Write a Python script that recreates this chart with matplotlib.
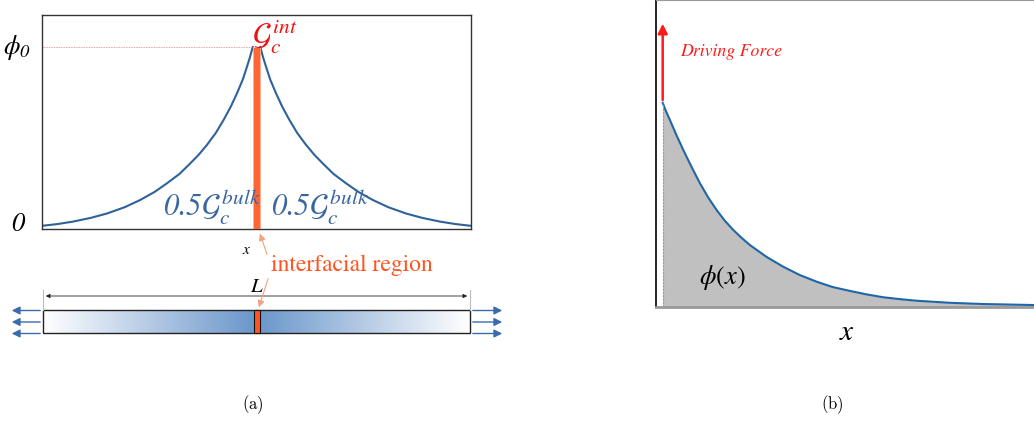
import numpy as np
import matplotlib
matplotlib.use("Agg")
import matplotlib.pyplot as plt
from matplotlib.colors import LinearSegmentedColormap
from matplotlib.patches import Rectangle

plt.rcParams['mathtext.fontset'] = 'stix'
plt.rcParams['mathtext.rm'] = 'STIXGeneral:italic'
plt.rcParams['mathtext.it'] = 'STIXGeneral:italic'
plt.rcParams['font.family'] = ['STIXGeneral', 'DejaVu Serif']

# panel (a): profile on each side of the interface (distance in L units, phi/phi0)
dist_a = [0, 0.007, 0.0135, 0.0233, 0.0368, 0.0513, 0.068, 0.0862, 0.1068, 0.1259, 0.1457,
          0.1702, 0.2, 0.2284, 0.2622, 0.2984, 0.34, 0.3776, 0.4177, 0.4545, 0.4912]
phi_a = [1, 0.94, 0.891, 0.82, 0.744, 0.67, 0.597, 0.525, 0.459, 0.405, 0.357,
         0.30, 0.247, 0.200, 0.155, 0.115, 0.080, 0.056, 0.036, 0.022, 0.012]
x_int = 0.5          # interface position (L = 1)
w_int = 0.0175       # interface width

# panel (b): decaying phi(x)
x_b = [0, 0.03, 0.073, 0.13, 0.206, 0.29, 0.373, 0.455, 0.54, 0.62, 0.706, 0.79, 0.873,
       1.04, 1.206, 1.37, 1.54, 1.70, 1.873, 2.04, 2.206, 2.37, 2.54, 2.873, 3.206, 3.72]
phi_b = [1, 0.962, 0.915, 0.85, 0.769, 0.685, 0.606, 0.537, 0.475, 0.424, 0.378, 0.339, 0.304,
         0.246, 0.198, 0.158, 0.125, 0.099, 0.080, 0.063, 0.049, 0.040, 0.032, 0.022, 0.016, 0.011]

W, H = 1034, 422
fig = plt.figure(figsize=(W / 100, H / 100), dpi=100)

def frac(l, t, r, b):
    return [l / W, 1 - b / H, (r - l) / W, (b - t) / H]

blue = '#2f6298'
orange = '#ff6633'

#%% panel (a)
ax = fig.add_axes(frac(42, 15, 471, 229))
left_x = [x_int - w_int / 2 - d for d in dist_a]
right_x = [x_int + w_int / 2 + d for d in dist_a]
ax.plot(left_x, phi_a, color=blue, lw=1.5, solid_joinstyle='round')
ax.plot(right_x, phi_a, color=blue, lw=1.5, solid_joinstyle='round')
ax.bar(x_int, 1.0055, width=w_int, bottom=-0.0055, color=orange, edgecolor='#ffb090', lw=0.5, zorder=3)
ax.plot([0, x_int - w_int / 2], [1, 1], color='#e08080', lw=0.6, ls=(0, (1, 1)))
ax.set_xlim(0, 1)
ax.set_ylim(-0.0055, 1.177)
ax.set_xticks([])
ax.set_yticks([])
for s in ax.spines.values():
    s.set_color('#333333')
    s.set_linewidth(1)

#%% panel (b)
bx = fig.add_axes([655.5 / W, 1 - 307.3 / H, 1 - 655.5 / W, 306.8 / H])
bx.fill_between(x_b, 0, phi_b, color='#c0c0c0', lw=0)
bx.plot(x_b, phi_b, color='#1f66a8', lw=1.5, solid_joinstyle='round')
bx.plot([0, 0], [0, 1], color='#999999', lw=0.8, ls=(0, (2, 1)))
bx.annotate('', xy=(0, 1.40), xytext=(0, 1.0),
            arrowprops=dict(arrowstyle='-|>', color='#ff1a1a', lw=1.8, mutation_scale=14))
bx.set_xlim(-0.072, 3.713)
bx.set_ylim(0, 1.5)
bx.set_xticks([])
bx.set_yticks([])
bx.spines['right'].set_visible(False)
bx.spines['left'].set_color('black')
bx.spines['left'].set_linewidth(1.2)
bx.spines['top'].set_color('#999999')
bx.spines['bottom'].set_color('#999999')
bx.spines['bottom'].set_linewidth(2)

#%% overlay (pixel coordinates) for schematic and labels
ov = fig.add_axes([0, 0, 1, 1])
ov.patch.set_visible(False)
ov.axis('off')

cmap = LinearSegmentedColormap.from_list('bar', ['white', '#6a96cb'])
grad = 1 - np.abs(np.linspace(-1, 1, 500))
ov.imshow(grad[np.newaxis, :], cmap=cmap, aspect='auto', extent=(43, 470, 333, 310), zorder=1)
ov.add_patch(Rectangle((43, 310), 427, 23, fill=False, edgecolor='#222222', lw=1, zorder=2))
ov.add_patch(Rectangle((254, 310), 5.5, 23, facecolor='#ff5522', edgecolor='#111111', lw=0.8, zorder=3))

# dimension line
ov.plot([43, 43], [290, 310], color='#bbbbbb', lw=0.8)
ov.plot([470, 470], [290, 310], color='#bbbbbb', lw=0.8)
ov.annotate('', xy=(43, 296), xytext=(470, 296),
            arrowprops=dict(arrowstyle='<|-|>', color='#222222', lw=0.6, mutation_scale=6))
ov.text(257, 287, r'$L$', fontsize=15, ha='center', va='center', math_fontfamily='stix')

# loading arrows
for yy in [310.5, 322, 333.5]:
    ov.annotate('', xy=(9, yy), xytext=(43, yy),
                arrowprops=dict(arrowstyle='-|>', color='#3a6cad', lw=1.0, mutation_scale=12))
    ov.annotate('', xy=(505, yy), xytext=(470, yy),
                arrowprops=dict(arrowstyle='-|>', color='#3a6cad', lw=1.0, mutation_scale=12))

# interfacial region label and arrows
ov.text(271, 265, 'interfacial region', fontsize=17, color='#ff5522', ha='left', va='center')
ov.annotate('', xy=(259, 231), xytext=(268, 257),
            arrowprops=dict(arrowstyle='-|>', color='#f5a080', lw=0.8, mutation_scale=10))
ov.annotate('', xy=(258, 310), xytext=(269, 276),
            arrowprops=dict(arrowstyle='-|>', color='#f5a080', lw=0.8, mutation_scale=10))
ov.text(247, 250, r'$x$', fontsize=11, ha='center', va='center', math_fontfamily='stix')

# panel (a) labels
ov.text(17, 48, r'$\phi_0$', fontsize=19, ha='center', va='center', math_fontfamily='custom')
ov.text(18, 225, '0', fontsize=19, style='italic', ha='center', va='center')
ov.text(252, 37, r'$\mathcal{G}_c^{\,int}$', fontsize=22, color='#ee1111', ha='left', va='center',
        math_fontfamily='stix')
ov.text(163, 206, r'0.5$\mathcal{G}_c^{\,bulk}$', fontsize=22, style='italic', color='#3a66a0',
        ha='left', va='center', math_fontfamily='stix')
ov.text(271, 206, r'0.5$\mathcal{G}_c^{\,bulk}$', fontsize=22, style='italic', color='#3a66a0',
        ha='left', va='center', math_fontfamily='stix')

# panel (b) labels
ov.text(680, 52, 'Driving Force', fontsize=12.8, style='italic', color='#ff1a1a', ha='left', va='center')
ov.text(699, 277, r'$\phi(x)$', fontsize=19, ha='left', va='center', math_fontfamily='stix')
ov.text(847, 333, r'$x$', fontsize=21, ha='center', va='center', math_fontfamily='stix')

# captions
ov.text(253, 405, r'$\mathrm{(a)}$', fontsize=12, math_fontfamily='cm', ha='center', va='center')
ov.text(832, 405, r'$\mathrm{(b)}$', fontsize=12, math_fontfamily='cm', ha='center', va='center')

ov.set_xlim(0, W)
ov.set_ylim(H, 0)

fig.savefig('out.png', dpi=100)
